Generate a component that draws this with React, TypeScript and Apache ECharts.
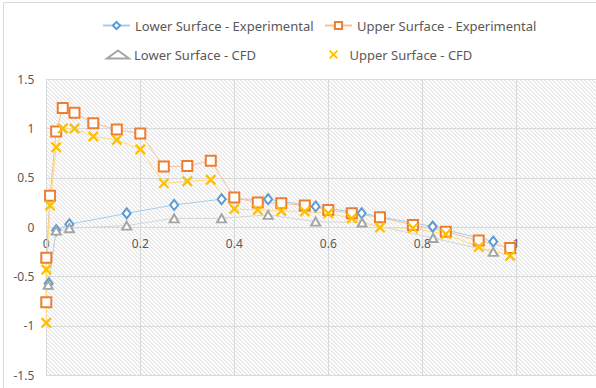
import React, { useEffect, useRef } from "react";
import * as echarts from "echarts";

// ---- data (chord position x/c, value) ----
const lowerExpX = [0.005, 0.021, 0.049, 0.171, 0.272, 0.373, 0.472, 0.573, 0.671, 0.822, 0.951];
const lowerExpY = [-0.57, -0.03, 0.03, 0.14, 0.226, 0.284, 0.284, 0.21, 0.142, 0.006, -0.146];

const upperExpX = [0, 0, 0.008, 0.021, 0.035, 0.06, 0.1, 0.15, 0.2, 0.25, 0.3, 0.35, 0.4, 0.45, 0.5, 0.55, 0.6, 0.65, 0.71, 0.78, 0.85, 0.92, 0.987];
const upperExpY = [-0.76, -0.31, 0.32, 0.97, 1.21, 1.16, 1.055, 0.99, 0.95, 0.615, 0.62, 0.675, 0.3, 0.25, 0.243, 0.22, 0.175, 0.142, 0.1, 0.023, -0.045, -0.136, -0.21];

const lowerCfdX = [0.004, 0.021, 0.049, 0.171, 0.272, 0.373, 0.472, 0.573, 0.672, 0.823, 0.951];
const lowerCfdY = [-0.585, -0.035, -0.01, 0.016, 0.09, 0.09, 0.125, 0.057, 0.047, -0.11, -0.25];

const upperCfdX = [0, 0, 0.008, 0.021, 0.035, 0.06, 0.1, 0.15, 0.2, 0.25, 0.3, 0.35, 0.4, 0.45, 0.5, 0.55, 0.6, 0.65, 0.71, 0.78, 0.85, 0.92, 0.987];
const upperCfdY = [-0.97, -0.43, 0.22, 0.81, 1.0, 1.0, 0.92, 0.885, 0.79, 0.445, 0.465, 0.48, 0.185, 0.175, 0.165, 0.158, 0.142, 0.09, -0.004, -0.01, -0.07, -0.2, -0.29];

const seriesNames = [
  "Lower Surface - Experimental",
  "Upper Surface - Experimental",
  "Lower Surface - CFD",
  "Upper Surface - CFD",
];

const zip = (xs: number[], ys: number[]) => xs.map((x, i) => [x, ys[i]]);

const X_SYMBOL =
  "path://M0,1.5L1.5,0L5,3.5L8.5,0L10,1.5L6.5,5L10,8.5L8.5,10L5,6.5L1.5,10L0,8.5L3.5,5Z";

function makeHatch(): HTMLCanvasElement {
  const c = document.createElement("canvas");
  c.width = 4;
  c.height = 4;
  const ctx = c.getContext("2d")!;
  ctx.fillStyle = "#ffffff";
  ctx.fillRect(0, 0, 4, 4);
  ctx.fillStyle = "#e3e3e3";
  for (let i = 0; i < 4; i++) ctx.fillRect(i, i, 1, 1);
  ctx.fillStyle = "#f1f1f1";
  for (let i = 0; i < 4; i++) ctx.fillRect((i + 1) % 4, i, 1, 1);
  return c;
}

const GRID_LEFT = 46.3;
const GRID_TOP = 79.3;
const GRID_W = 564;
const GRID_H = 295.8;

export default function App() {
  const ref = useRef<HTMLDivElement>(null);
  useEffect(() => {
    if (!ref.current) return;
    const chart = echarts.init(ref.current, undefined, { renderer: "svg" });
    const font = "Noto Sans";
    const textColor = "#595959";
    const legendText = { color: textColor, fontSize: 13, fontFamily: font };
    const hatch = makeHatch();
    chart.setOption({
      animation: false,
      backgroundColor: "#ffffff",
      textStyle: { fontFamily: font },
      graphic: [
        {
          type: "rect",
          shape: { x: 3.5, y: 2.5, width: 800, height: 600 },
          style: { fill: "none", stroke: "#d9d9d9", lineWidth: 1 },
          silent: true,
          z: -1,
        },
      ],
      grid: {
        show: true,
        left: GRID_LEFT,
        top: GRID_TOP,
        width: GRID_W,
        height: GRID_H,
        outerBoundsMode: "none",
        containLabel: false,
        borderWidth: 0,
        backgroundColor: { image: hatch, repeat: "repeat", imageWidth: 4, imageHeight: 4 },
      },
      legend: [
        {
          data: [seriesNames[0]],
          left: 102,
          top: 19,
          padding: 0,
          itemWidth: 27,
          itemHeight: 9,
          textStyle: legendText,
        },
        {
          data: [seriesNames[1]],
          left: 324,
          top: 19,
          padding: 0,
          itemWidth: 27,
          itemHeight: 9,
          textStyle: legendText,
        },
        {
          data: [{ name: seriesNames[2], icon: "emptyTriangle" }],
          left: 106,
          top: 48,
          padding: 0,
          itemWidth: 22,
          itemHeight: 8,
          textStyle: legendText,
        },
        {
          data: [{ name: seriesNames[3], icon: X_SYMBOL }],
          left: 329,
          top: 48,
          padding: 0,
          itemWidth: 22,
          itemHeight: 9,
          textStyle: legendText,
        },
      ],
      xAxis: {
        type: "value",
        min: 0,
        max: 1.2,
        interval: 0.2,
        position: "bottom",
        offset: -GRID_H / 2,
        axisLine: { show: true, onZero: false, lineStyle: { color: "#d9d9d9" } },
        axisTick: { show: false },
        axisLabel: {
          color: textColor,
          fontSize: 12,
          margin: 10,
          formatter: (v: number) => (v > 1.0001 ? "" : String(Math.round(v * 10) / 10)),
        },
        splitLine: { show: true, lineStyle: { color: "#d9d9d9" } },
      },
      yAxis: {
        type: "value",
        min: -1.5,
        max: 1.5,
        interval: 0.5,
        axisLine: { show: true, onZero: false, lineStyle: { color: "#d9d9d9" } },
        axisTick: { show: false },
        axisLabel: { color: textColor, fontSize: 12, margin: 12 },
        splitLine: { show: true, lineStyle: { color: "#d9d9d9" } },
      },
      series: [
        {
          name: seriesNames[0],
          type: "line",
          data: zip(lowerExpX, lowerExpY),
          symbol: "emptyDiamond",
          symbolSize: [8, 10],
          itemStyle: { color: "#5B9BD5", borderWidth: 2 },
          lineStyle: { color: "#A9CCEB", width: 1 },
        },
        {
          name: seriesNames[1],
          type: "line",
          data: zip(upperExpX, upperExpY),
          symbol: "emptyRect",
          symbolSize: 10,
          itemStyle: { color: "#ED7D31", borderWidth: 2 },
          lineStyle: { color: "#F6C09C", width: 1 },
        },
        {
          name: seriesNames[2],
          type: "line",
          data: zip(lowerCfdX, lowerCfdY),
          symbol: "emptyTriangle",
          symbolSize: [9, 8],
          itemStyle: { color: "#A5A5A5", borderWidth: 2 },
          lineStyle: { color: "#D6D6D6", width: 1 },
        },
        {
          name: seriesNames[3],
          type: "line",
          data: zip(upperCfdX, upperCfdY),
          symbol: X_SYMBOL,
          symbolSize: 11,
          itemStyle: { color: "#FFC000" },
          lineStyle: { color: "#FFDC7A", width: 1 },
        },
      ],
    });
    return () => chart.dispose();
  }, []);
  return (
    <div
      ref={ref}
      style={{ position: "fixed", left: 0, top: 0, width: 596, height: 388 }}
    />
  );
}
